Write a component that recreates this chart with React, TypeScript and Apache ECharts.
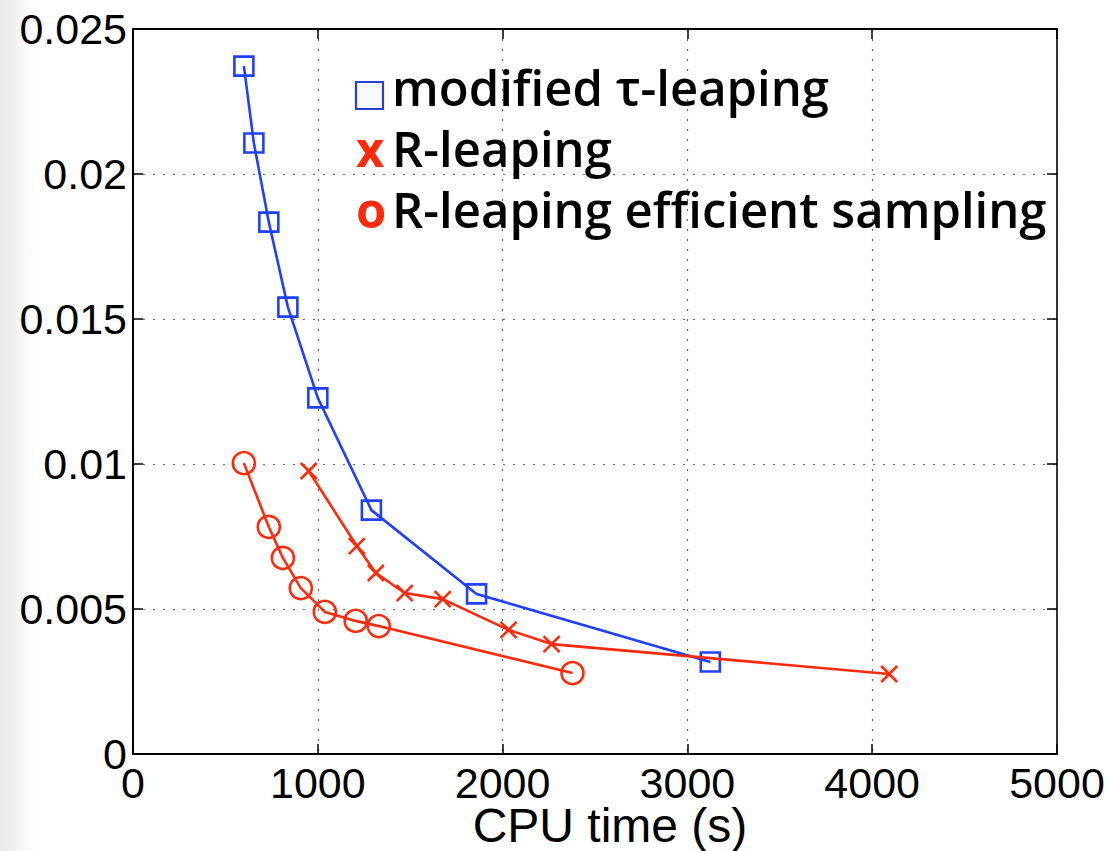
import React, { useEffect, useRef } from "react";
import * as echarts from "echarts";

// modified tau-leaping (blue squares)
const tauX = [600, 654, 735, 838, 1000, 1290, 1859, 3124];
const tauY = [0.02372, 0.02107, 0.01834, 0.01541, 0.01228, 0.00841, 0.00552, 0.00317];
// R-leaping (red crosses)
const rlX = [951, 1211, 1314, 1470, 1676, 2032, 2265, 4092];
const rlY = [0.00976, 0.00717, 0.00624, 0.00555, 0.00534, 0.00428, 0.00379, 0.00276];
// R-leaping efficient sampling (red circles)
const resX = [600, 735, 811, 908, 1038, 1205, 1330, 2378];
const resY = [0.01003, 0.00783, 0.00676, 0.00572, 0.0049, 0.00459, 0.00441, 0.00279];

const xTicks = [0, 1000, 2000, 3000, 4000, 5000];
const yTicks = [0, 0.005, 0.01, 0.015, 0.02, 0.025];
const legendNames = ["modified \u03c4-leaping", "R-leaping", "R-leaping efficient sampling"];
const legendMarks = ["", "x", "o"];
const xName = "CPU time (s)";

const BLUE = "#2040ff";
const RED = "#ff2a0a";

const pair = (xs: number[], ys: number[]) => xs.map((x, i) => [x, ys[i]]);

export default function App() {
  const ref = useRef<HTMLDivElement>(null);
  useEffect(() => {
    if (!ref.current) return;
    const chart = echarts.init(ref.current, undefined, { renderer: "svg" });
    const tickFont = { fontFamily: "Liberation Sans, Arial, sans-serif", fontSize: 43, color: "#000" };
    const gridLine = { show: true, lineStyle: { color: "#666", type: [2, 8] as any, width: 1.2 } };
    const noLine = { show: false };
    const xMin = xTicks[0], xMax = xTicks[xTicks.length - 1];
    const yMin = yTicks[0], yMax = yTicks[yTicks.length - 1];
    const xInt = xTicks[1] - xTicks[0];
    const yInt = yTicks[1] - yTicks[0];
    const legendFont = "'Open Sans', 'Noto Sans', sans-serif";
    chart.setOption({
      animation: false,
      backgroundColor: "#fff",
      grid: { left: 133, right: 53, top: 29, bottom: 97, show: false, outerBoundsMode: "none", containLabel: false },
      xAxis: [
        {
          type: "value", min: xMin, max: xMax, interval: xInt, position: "bottom",
          axisLine: { show: true, onZero: false, lineStyle: { color: "#000", width: 2 } },
          axisTick: { show: true, inside: true, length: 10, lineStyle: { color: "#000", width: 1.5 } },
          axisLabel: { ...tickFont, lineHeight: 33, margin: 12, formatter: (v: number) => String(v) },
          splitLine: gridLine,
          name: xName, nameLocation: "middle", nameGap: 51, nameMoveOverlap: false,
          nameTextStyle: { fontFamily: "Liberation Sans, Arial, sans-serif", fontSize: 48, lineHeight: 40, color: "#000", padding: [0, 0, 0, 30] },
        },
        {
          type: "value", min: xMin, max: xMax, interval: xInt, position: "top",
          axisLine: { show: true, onZero: false, lineStyle: { color: "#000", width: 2 } },
          axisTick: { show: true, inside: true, length: 10, lineStyle: { color: "#000", width: 1.5 } },
          axisLabel: { show: false }, splitLine: noLine,
        },
      ],
      yAxis: [
        {
          type: "value", min: yMin, max: yMax, interval: yInt, position: "left",
          axisLine: { show: true, onZero: false, lineStyle: { color: "#000", width: 2 } },
          axisTick: { show: true, inside: true, length: 10, lineStyle: { color: "#000", width: 1.5 } },
          axisLabel: { ...tickFont, margin: 6, formatter: (v: number) => String(+v.toFixed(4)) },
          splitLine: gridLine,
        },
        {
          type: "value", min: yMin, max: yMax, interval: yInt, position: "right",
          axisLine: { show: true, onZero: false, lineStyle: { color: "#333", width: 2 } },
          axisTick: { show: true, inside: true, length: 10, lineStyle: { color: "#000", width: 1.5 } },
          axisLabel: { show: false }, splitLine: noLine,
        },
      ],
      series: [
        {
          name: legendNames[0], type: "line", xAxisIndex: 0, yAxisIndex: 0,
          data: pair(tauX, tauY), symbol: "rect", symbolSize: 19,
          lineStyle: { color: BLUE, width: 2.6 },
          itemStyle: { color: "rgba(0,0,0,0)", borderColor: BLUE, borderWidth: 2.6 },
          z: 3,
        },
        {
          name: legendNames[1], type: "line", xAxisIndex: 0, yAxisIndex: 0,
          data: pair(rlX, rlY), symbol: "path://M0,0L10,10M10,0L0,10", symbolSize: 16,
          lineStyle: { color: RED, width: 2.6 },
          itemStyle: { color: "rgba(0,0,0,0)", borderColor: RED, borderWidth: 2.6 },
          z: 4,
        },
        {
          name: legendNames[2], type: "line", xAxisIndex: 0, yAxisIndex: 0,
          data: pair(resX, resY), symbol: "circle", symbolSize: 22,
          lineStyle: { color: RED, width: 2.6 },
          itemStyle: { color: "rgba(0,0,0,0)", borderColor: RED, borderWidth: 2.6 },
          z: 4,
        },
      ],
      graphic: [
        {
          type: "rect", left: 0, top: 0, z: -10, silent: true,
          shape: { width: 36, height: 851 },
          style: {
            fill: new echarts.graphic.LinearGradient(0, 0, 1, 0, [
              { offset: 0, color: "#e9e9e9" },
              { offset: 1, color: "#ffffff" },
            ]),
          },
        },
        {
          type: "rect", shape: { x: 356, y: 82, width: 27, height: 27 }, z: 10,
          style: { fill: "#f8f9ff", stroke: "#2a3fd0", lineWidth: 2.2 },
        },
        {
          type: "text", x: 356, y: 56, z: 10,
          style: {
            text: legendMarks.join("\n"), font: `700 49px ${legendFont}`, fill: RED,
            lineHeight: 61, verticalAlign: "top", align: "left",
          },
        },
        {
          type: "text", x: 392, y: 56, z: 10,
          style: {
            text: legendNames.join("\n"), font: `600 49px ${legendFont}`, fill: "#000",
            lineHeight: 61, verticalAlign: "top", align: "left",
          },
        },
      ],
    });
    return () => chart.dispose();
  }, []);
  return (
    <div
      ref={ref}
      style={{ position: "fixed", left: 0, top: 0, width: 1110, height: 851, background: "#fff" }}
    />
  );
}
